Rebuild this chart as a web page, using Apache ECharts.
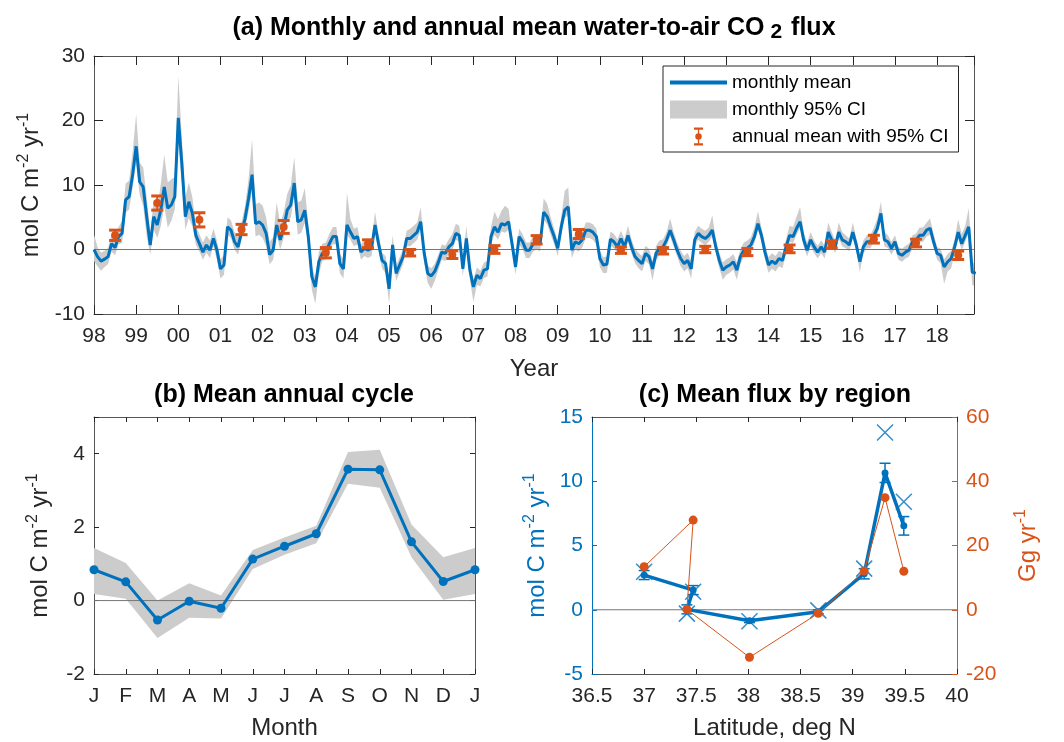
<!DOCTYPE html>
<html><head><meta charset="utf-8">
<script src="https://cdn.jsdelivr.net/npm/echarts@6/dist/echarts.min.js"></script>
<style>html,body{margin:0;padding:0;background:#fff}#c{width:1064px;height:742px}</style>
</head><body><div id="c"></div>
<script>
const FONT = "'Liberation Sans', Arial, Helvetica, sans-serif";
const BLUE = '#0072BD', ORANGE = '#D95319', TXT = '#262626', AX = '#555555', BAND = '#cccccc';

// ---------- panel (a) data ----------
const startYear = 1998;
const xMaxA = 2018.875;
const yearTicks = [1998,1999,2000,2001,2002,2003,2004,2005,2006,2007,2008,2009,2010,2011,2012,2013,2014,2015,2016,2017,2018];
const monthlyMean = [
  [0.0,-1.1,-1.8,-1.5,-1.1,0.9,0.3,2.0,2.5,7.7,8.2,11.6],
  [16.0,10.5,9.7,5.1,0.7,5.1,3.8,6.1,9.7,6.4,6.9,8.2],
  [20.4,13.4,5.1,7.4,5.6,2.2,0.9,-0.4,0.7,-0.1,1.7,-0.1],
  [-3.0,-2.4,3.5,3.0,1.2,0.4,2.7,4.8,7.9,11.6,4.0,4.3],
  [3.8,2.5,-0.8,-0.1,3.8,1.5,3.3,6.1,6.9,10.3,4.3,4.6],
  [6.1,2.0,-4.2,-5.8,-1.9,-0.6,-0.4,0.9,2.0,2.0,-2.2,-3.0],
  [3.8,2.7,1.7,2.0,-0.4,0.2,-0.1,0.2,3.8,0.9,-1.7,-2.2],
  [-6.1,0.7,-3.7,-2.4,-1.1,1.7,1.7,2.2,2.7,4.3,-0.6,-3.7],
  [-4.1,-3.4,-2.0,-0.4,-0.6,0.4,0.9,2.5,2.2,-3.0,1.7,-3.2],
  [-5.8,-4.0,-4.5,-3.2,-3.0,2.0,3.5,2.7,4.0,3.8,4.3,0.9],
  [-2.7,2.0,1.2,-0.1,-0.1,0.9,1.2,0.9,5.8,5.1,3.5,2.0],
  [0.2,3.5,6.1,6.6,-0.1,1.2,0.9,1.5,3.0,3.0,2.7,2.0],
  [-1.4,-2.4,-2.3,1.6,1.2,0.4,1.7,0.4,2.2,0.4,-1.1,-1.7],
  [-2.2,-0.6,-1.1,-3.0,-0.6,0.2,0.4,1.5,3.0,1.5,-0.1,-1.4],
  [-2.2,-1.7,-3.0,1.5,2.5,2.0,1.7,2.2,3.0,0.4,-1.7,-3.2],
  [-2.7,-2.4,-1.9,-3.2,-1.1,-0.1,0.2,0.7,2.0,4.0,2.2,-0.4],
  [-2.4,-1.8,-2.2,-1.4,-1.7,0.4,2.2,2.0,3.3,4.3,1.5,-0.1],
  [1.5,0.4,-0.4,0.4,-0.4,2.7,1.5,0.4,2.7,1.5,1.2,0.7],
  [2.7,0.7,-1.9,0.4,1.2,1.2,2.2,3.3,5.6,1.5,1.2,0.2],
  [1.2,-0.6,-0.9,-0.4,-0.1,1.2,1.5,2.2,2.2,3.0,3.3,1.2],
  [-0.6,-0.9,-2.7,-1.9,-1.4,0.4,2.7,0.9,2.2,3.5,-3.5,-3.7]
];
// upper CI minus mean
const monthlyCIUp = [
  [2.3,1.5,1.3,1.3,1.3,1.5,1.5,1.5,2.0,2.5,2.5,3.5],
  [5.0,3.0,3.0,3.0,2.0,2.5,2.5,4.0,5.0,4.0,4.0,3.0],
  [6.5,4.0,3.0,3.0,2.5,1.5,1.5,1.5,1.5,1.5,1.5,1.5],
  [1.5,1.5,1.5,1.5,1.5,1.5,1.5,2.0,3.0,5.5,3.0,3.0],
  [3.0,2.5,2.0,2.0,3.5,2.5,2.5,2.5,3.0,4.0,3.0,3.0],
  [3.4,2.0,1.5,1.5,1.5,1.5,1.5,1.5,1.5,1.5,1.5,1.5],
  [5.0,2.0,1.5,1.5,1.2,1.2,1.2,1.2,2.0,1.5,1.2,1.2],
  [1.5,1.5,1.2,1.2,1.2,1.2,1.5,1.5,1.5,2.3,1.2,1.2],
  [1.2,1.2,1.2,1.2,1.2,1.2,1.5,1.5,1.5,1.2,2.0,1.2],
  [1.2,1.2,1.2,1.2,1.2,1.5,2.4,2.0,2.0,3.0,2.0,1.2],
  [1.2,1.2,1.2,1.2,1.2,1.2,1.2,1.2,2.1,2.0,1.5,1.2],
  [1.2,1.5,3.0,3.0,1.2,1.2,1.2,1.2,1.2,1.2,1.2,1.2],
  [1.2,1.2,1.2,1.2,1.2,1.2,1.2,1.2,1.5,1.2,1.2,1.2],
  [1.2,1.2,1.2,1.2,1.2,1.2,1.2,1.2,1.8,1.2,1.2,1.2],
  [1.2,1.2,1.2,1.2,1.2,1.2,1.2,1.2,2.3,1.2,1.2,1.2],
  [1.2,1.2,1.2,1.2,1.2,1.2,1.2,1.2,1.5,1.9,1.2,1.2],
  [1.2,1.2,1.2,1.2,1.2,1.2,1.5,1.5,1.8,2.3,1.2,1.2],
  [1.2,1.0,1.0,1.0,1.0,1.5,1.2,1.0,1.5,1.2,1.0,1.0],
  [1.5,1.0,1.0,1.0,1.0,1.0,1.2,1.5,1.8,1.2,1.0,1.0],
  [1.0,1.0,1.0,1.0,1.0,1.0,1.0,1.2,1.2,1.2,1.5,1.2],
  [1.0,1.0,1.2,1.2,1.2,1.2,2.0,1.5,1.5,2.9,1.5,1.5]
];
// mean minus lower CI
const monthlyCIDn = [
  [1.8,1.5,1.5,1.2,1.2,1.2,1.2,1.2,1.5,2.0,2.0,2.0],
  [2.5,2.0,3.0,3.0,1.5,2.0,2.0,2.5,3.0,3.0,2.5,2.0],
  [4.0,3.0,2.0,2.5,2.0,1.5,1.2,1.2,1.2,1.2,1.2,1.5],
  [1.5,1.5,1.2,1.2,1.2,1.2,1.2,1.5,2.0,2.5,2.0,2.0],
  [2.0,2.0,1.5,1.5,1.5,1.5,1.5,1.5,2.0,2.0,2.0,2.0],
  [2.0,1.5,2.0,2.6,2.0,1.2,1.2,1.2,1.2,1.2,1.5,1.5],
  [1.5,1.2,1.2,1.2,1.2,1.2,1.2,1.2,1.2,1.2,1.2,1.5],
  [2.3,1.5,1.2,1.2,1.2,1.2,1.2,1.2,1.2,1.2,1.5,1.5],
  [2.0,1.5,1.2,1.2,1.2,1.0,1.0,1.0,1.0,1.2,1.2,1.5],
  [2.3,1.5,1.2,1.2,1.2,1.2,1.2,1.2,1.2,1.2,1.2,1.2],
  [1.2,1.2,1.2,1.2,1.2,1.2,1.2,1.2,1.2,1.2,1.2,1.2],
  [1.2,1.2,1.2,1.2,1.2,1.2,1.2,1.2,1.2,1.2,1.2,1.2],
  [1.3,1.3,1.3,1.0,1.0,1.0,1.0,1.0,1.0,1.0,1.0,1.2],
  [1.2,1.2,1.2,1.8,1.2,1.0,1.0,1.0,1.0,1.0,1.0,1.2],
  [1.2,1.2,1.5,1.0,1.0,1.0,1.0,1.0,1.0,1.0,1.2,1.5],
  [1.2,1.2,1.2,1.5,1.2,1.0,1.0,1.0,1.0,1.0,1.0,1.2],
  [1.2,1.2,1.2,1.2,1.2,1.0,1.0,1.0,1.0,1.0,1.0,1.0],
  [1.0,1.0,1.0,1.0,1.0,1.0,1.0,1.0,1.0,1.0,1.0,1.0],
  [1.0,1.0,1.6,1.0,1.0,1.0,1.0,1.0,1.0,1.0,1.0,1.0],
  [1.0,1.0,1.0,1.0,1.0,1.0,1.0,1.0,1.0,1.0,1.0,1.0],
  [1.0,1.2,2.6,1.5,1.5,1.0,1.0,1.0,1.0,1.0,2.0,2.0]
];
const annualMean = [2.2,7.2,4.6,3.1,3.5,-0.5,0.9,-0.5,-0.8,0.0,1.5,2.4,-0.1,-0.2,0.0,-0.4,0.1,0.8,1.6,1.0,-0.9];
const annualCI   = [0.8,1.1,1.1,0.8,1.0,0.8,0.6,0.5,0.6,0.6,0.65,0.7,0.5,0.5,0.5,0.55,0.6,0.55,0.6,0.6,0.65];

// ---------- panel (b) data ----------
const monthLetters = ['J','F','M','A','M','J','J','A','S','O','N','D','J'];
const cycleMean = [0.84,0.51,-0.53,-0.02,-0.21,1.13,1.48,1.82,3.58,3.56,1.60,0.52,0.84];
const cycleLow  = [0.18,0.05,-1.02,-0.47,-0.49,0.86,1.25,1.56,3.18,3.07,1.18,0.02,0.18];
const cycleHigh = [1.43,1.02,0.00,0.47,0.14,1.38,1.72,2.04,4.05,4.11,2.07,1.18,1.43];

// ---------- panel (c) data ----------
const regionLat    = [37.00,37.47,37.41,38.01,38.67,39.11,39.31,39.49];
const regionFlux   = [2.70,1.53,0.03,-0.85,-0.16,2.80,10.65,6.53];
const regionFluxCI = [0.35,0.35,0.35,0.15,0.15,0.40,0.75,0.72];
const regionFluxX  = [2.95,1.40,-0.30,-0.90,-0.05,3.20,13.80,8.40];
const regionGg     = [13.4,27.9,0.1,-14.8,-1.1,12.1,34.9,12.0];

// ---------- build series data ----------
const mFlat = monthlyMean.flat(), upFlat = monthlyCIUp.flat(), dnFlat = monthlyCIDn.flat();
const mX = mFlat.map((_, k) => startYear + k / 12);
const meanData = mFlat.map((v, k) => [mX[k], v]);
const bandAData = mFlat.map((v, k) => [mX[k], v - dnFlat[k], v + upFlat[k]]);
const annualData = yearTicks.map((y, i) => [y + 0.5, annualMean[i], annualMean[i] - annualCI[i], annualMean[i] + annualCI[i]]);

const cycX = cycleMean.map((_, i) => i + 1);
const cycMeanData = cycleMean.map((v, i) => [cycX[i], v]);
const bandBData = cycX.map((x, i) => [x, cycleLow[i], cycleHigh[i]]);

const regMeanData = regionLat.map((x, i) => [x, regionFlux[i]]);
const regErrData = regionLat.map((x, i) => [x, regionFlux[i], regionFlux[i] - regionFluxCI[i], regionFlux[i] + regionFluxCI[i]]);
const regXData = regionLat.map((x, i) => [x, regionFluxX[i]]);
const regGgData = regionLat.map((x, i) => [x, regionGg[i]]);

// ---------- helpers ----------
const yName = '{t|mol C m}{s|-2}{t| yr}{s|-1}';
const nameRich = {t: {fontSize: 24, lineHeight: 30, fontFamily: FONT}, s: {fontSize: 16, lineHeight: 14, verticalAlign: 'top', fontFamily: FONT}};
function isInt(v){ return Math.abs(v - Math.round(v)) < 1e-6; }
function boxAxis(extra, tickLen, color){
  return Object.assign({
    axisLine: {show: true, onZero: false, lineStyle: {color: color || AX, width: 1}},
    axisTick: {show: true, inside: true, length: tickLen, lineStyle: {color: color || TXT, width: 1}},
    axisLabel: {show: false},
    splitLine: {show: false}
  }, extra);
}
function mainAxis(extra, tickLen, color, labelColor){
  return Object.assign({
    axisLine: {show: true, onZero: false, lineStyle: {color: color || AX, width: 1}},
    axisTick: {show: true, inside: true, length: tickLen, lineStyle: {color: color || TXT, width: 1}},
    splitLine: {show: false},
    nameLocation: 'middle',
    nameMoveOverlap: false,
    nameTextStyle: {fontSize: 24, color: labelColor || TXT, fontFamily: FONT, rich: nameRich}
  }, extra);
}
function lbl(extra, color){
  return Object.assign({fontSize: 21, color: color || TXT, fontFamily: FONT}, extra);
}
function errRender(color, lw, hw, ct, r){
  return function(params, api){
    const x = api.value(0);
    const pc = api.coord([x, api.value(1)]), pl = api.coord([x, api.value(2)]), ph = api.coord([x, api.value(3)]);
    const st = {fill: color};
    const ch = [
      {type: 'rect', shape: {x: pc[0] - lw/2, y: ph[1], width: lw, height: pl[1] - ph[1]}, style: st},
      {type: 'rect', shape: {x: pc[0] - hw, y: ph[1] - ct/2, width: 2*hw, height: ct}, style: st},
      {type: 'rect', shape: {x: pc[0] - hw, y: pl[1] - ct/2, width: 2*hw, height: ct}, style: st}
    ];
    if (r) ch.push({type: 'circle', shape: {cx: pc[0], cy: pc[1], r: r}, style: st});
    return {type: 'group', children: ch};
  };
}
// one filled polygon through all [x, low, high] rows of a band
function bandRender(rows, color){
  return function(params, api){
    if (params.dataIndex !== 0) return null;
    const pts = [];
    for (let i = 0; i < rows.length; i++) pts.push(api.coord([rows[i][0], rows[i][2]]));
    for (let i = rows.length - 1; i >= 0; i--) pts.push(api.coord([rows[i][0], rows[i][1]]));
    return {type: 'polygon', shape: {points: pts}, style: {fill: color}};
  };
}

const chart = echarts.init(document.getElementById('c'), null, {renderer: 'canvas'});
const option = {
  backgroundColor: '#ffffff',
  animation: false,
  title: [
    {text: '{t|(a) Monthly and annual mean water-to-air CO}{s|2}{t| flux}', left: 534, top: 13, textAlign: 'center', padding: 0,
     textStyle: {rich: {t: {fontSize: 25, fontWeight: 'bold', color: '#000', fontFamily: FONT, lineHeight: 30},
                        s: {fontSize: 21, fontWeight: 'bold', color: '#000', fontFamily: FONT, lineHeight: 18, verticalAlign: 'bottom', padding: [0, 2, 0, 6]}}}},
    {text: '(b) Mean annual cycle', left: 284, top: 383, textAlign: 'center', padding: 0,
     textStyle: {fontSize: 25, fontWeight: 'bold', color: '#000', fontFamily: FONT}},
    {text: '(c) Mean flux by region', left: 775, top: 383, textAlign: 'center', padding: 0,
     textStyle: {fontSize: 25, fontWeight: 'bold', color: '#000', fontFamily: FONT}}
  ],
  legend: {
    orient: 'vertical', left: 663, top: 66, padding: [7, 10, 6, 7],
    itemWidth: 57, itemHeight: 18, itemGap: 8, selectedMode: false,
    borderColor: '#262626', borderWidth: 1, backgroundColor: '#ffffff',
    textStyle: {fontSize: 19, color: '#000', fontFamily: FONT, lineHeight: 18},
    data: [
      {name: 'monthly mean', icon: 'path://M0,0H60V4H0Z', itemStyle: {color: BLUE}},
      {name: 'monthly 95% CI', icon: 'rect', itemStyle: {color: BAND}},
      {name: 'annual mean with 95% CI', icon: 'path://M0,0H10V2.6H0ZM0,17.4H10V20H0ZM4.3,2.6H5.7V17.4H4.3ZM8.6,10A3.6,3.6,0,1,1,1.4,10A3.6,3.6,0,1,1,8.6,10Z', itemStyle: {color: ORANGE}}
    ]
  },
  grid: [
    {left: 94, top: 56, width: 880, height: 258},
    {left: 94, top: 417, width: 381, height: 257},
    {left: 592, top: 417, width: 365, height: 257}
  ],
  xAxis: [
    mainAxis({type: 'value', gridIndex: 0, min: startYear, max: xMaxA, interval: 1, position: 'bottom',
      name: 'Year', nameGap: 43, nameTextStyle: {fontSize: 24, color: TXT, fontFamily: FONT},
      axisLabel: lbl({margin: 12, formatter: v => isInt(v) ? String(Math.round(v) % 100).padStart(2, '0') : ''})}, 9),
    boxAxis({type: 'value', gridIndex: 0, min: startYear, max: xMaxA, interval: 1, position: 'top'}, 9),
    mainAxis({type: 'value', gridIndex: 1, min: 1, max: 13, interval: 1, position: 'bottom',
      name: 'Month', nameGap: 42, nameTextStyle: {fontSize: 24, color: TXT, fontFamily: FONT},
      axisLabel: lbl({margin: 12, formatter: v => isInt(v) ? monthLetters[Math.round(v) - 1] : ''})}, 5),
    boxAxis({type: 'value', gridIndex: 1, min: 1, max: 13, interval: 1, position: 'top'}, 5),
    mainAxis({type: 'value', gridIndex: 2, min: 36.5, max: 40, interval: 0.5, position: 'bottom',
      name: 'Latitude, deg N', nameGap: 42, nameTextStyle: {fontSize: 24, color: TXT, fontFamily: FONT},
      axisLabel: lbl({margin: 12})}, 5),
    boxAxis({type: 'value', gridIndex: 2, min: 36.5, max: 40, interval: 0.5, position: 'top'}, 5)
  ],
  yAxis: [
    mainAxis({type: 'value', gridIndex: 0, min: -10, max: 30, interval: 10, position: 'left',
      name: yName, nameGap: 48, nameRotate: 90, axisLabel: lbl({margin: 9})}, 9),
    boxAxis({type: 'value', gridIndex: 0, min: -10, max: 30, interval: 10, position: 'right'}, 9),
    mainAxis({type: 'value', gridIndex: 1, min: -2, max: 5, interval: 2, position: 'left',
      name: yName, nameGap: 39, nameRotate: 90, axisLabel: lbl({margin: 9, formatter: v => (v > 4.5 ? '' : String(v))})}, 5),
    boxAxis({type: 'value', gridIndex: 1, min: -2, max: 5, interval: 2, position: 'right'}, 5),
    mainAxis({type: 'value', gridIndex: 2, min: -5, max: 15, interval: 5, position: 'left',
      name: yName, nameGap: 40, nameRotate: 90, axisLabel: lbl({margin: 9}, BLUE)}, 5, BLUE, BLUE),
    mainAxis({type: 'value', gridIndex: 2, min: -20, max: 60, interval: 20, position: 'right',
      name: '{t|Gg yr}{s|-1}', nameGap: 56, nameRotate: 90, axisLabel: lbl({margin: 9}, ORANGE)}, 5, ORANGE, ORANGE)
  ],
  series: [
    // panel a
    {name: 'monthly 95% CI', type: 'custom', xAxisIndex: 0, yAxisIndex: 0, data: bandAData, clip: true,
     encode: {x: 0, y: [1, 2]}, renderItem: bandRender(bandAData, BAND), itemStyle: {color: BAND}, silent: true, z: 1},
    {name: 'zeroA', type: 'line', xAxisIndex: 0, yAxisIndex: 0, data: [[startYear, 0], [xMaxA, 0]], symbol: 'none',
     lineStyle: {color: '#777777', width: 1}, silent: true, z: 2},
    {name: 'monthly mean', type: 'line', xAxisIndex: 0, yAxisIndex: 0, data: meanData, symbol: 'none',
     lineStyle: {color: BLUE, width: 3}, itemStyle: {color: BLUE}, z: 3},
    {name: 'annual mean with 95% CI', type: 'custom', xAxisIndex: 0, yAxisIndex: 0, data: annualData,
     encode: {x: 0, y: [1, 2, 3]}, renderItem: errRender(ORANGE, 2, 6, 3, 4), itemStyle: {color: ORANGE}, z: 4},
    // panel b
    {name: 'cycBand', type: 'custom', xAxisIndex: 2, yAxisIndex: 2, data: bandBData, clip: true,
     encode: {x: 0, y: [1, 2]}, renderItem: bandRender(bandBData, BAND), silent: true, z: 1},
    {name: 'zeroB', type: 'line', xAxisIndex: 2, yAxisIndex: 2, data: [[1, 0], [13, 0]], symbol: 'none',
     lineStyle: {color: '#777777', width: 1}, silent: true, z: 2},
    {name: 'cycMean', type: 'line', xAxisIndex: 2, yAxisIndex: 2, data: cycMeanData, symbol: 'circle', symbolSize: 9,
     lineStyle: {color: BLUE, width: 3}, itemStyle: {color: BLUE}, z: 3},
    // panel c
    {name: 'zeroC', type: 'line', xAxisIndex: 4, yAxisIndex: 4, data: [[36.5, 0], [40, 0]], symbol: 'none',
     lineStyle: {color: '#777777', width: 1}, silent: true, z: 1},
    {name: 'regMean', type: 'line', xAxisIndex: 4, yAxisIndex: 4, data: regMeanData, symbol: 'circle', symbolSize: 7,
     lineStyle: {color: BLUE, width: 3.5}, itemStyle: {color: BLUE}, z: 3},
    {name: 'regErr', type: 'custom', xAxisIndex: 4, yAxisIndex: 4, data: regErrData,
     encode: {x: 0, y: [1, 2, 3]}, renderItem: errRender(BLUE, 1.5, 5.5, 1.5, 0), z: 3},
    {name: 'regX', type: 'scatter', xAxisIndex: 4, yAxisIndex: 4, data: regXData,
     symbol: 'path://M0,0L10,10M10,0L0,10', symbolSize: 16,
     itemStyle: {color: 'rgba(0,0,0,0)', borderColor: BLUE, borderWidth: 1.5}, z: 4},
    {name: 'regGg', type: 'line', xAxisIndex: 4, yAxisIndex: 5, data: regGgData, symbol: 'circle', symbolSize: 9,
     lineStyle: {color: ORANGE, width: 1}, itemStyle: {color: ORANGE}, z: 5}
  ]
};
chart.setOption(option);
</script>
</body></html>
